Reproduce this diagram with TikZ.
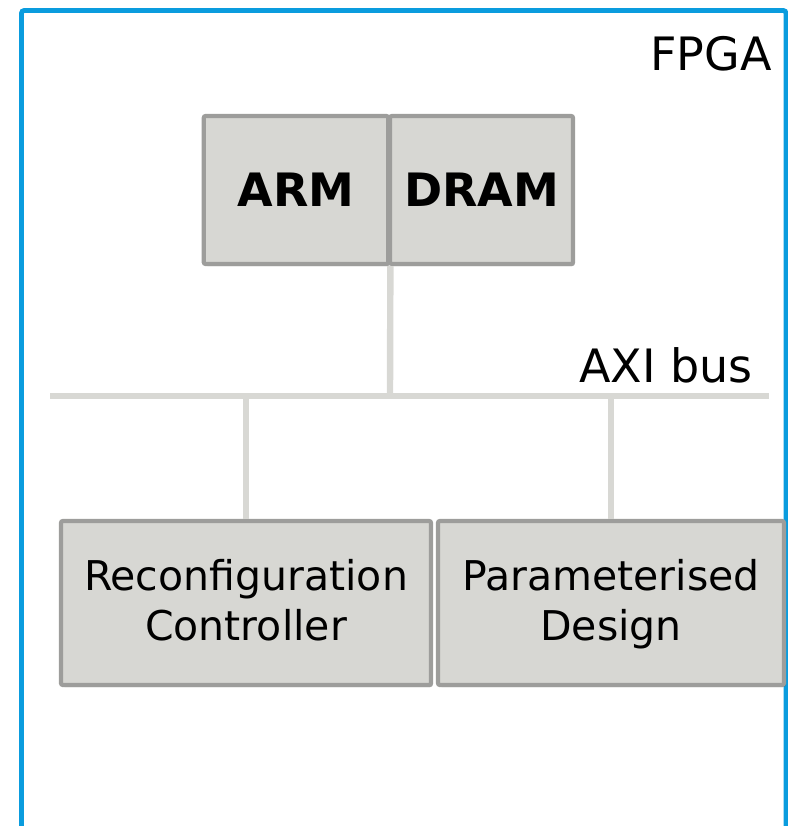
\documentclass[tikz,border=0pt]{standalone}
\usepackage{fontspec}
\setmainfont{DejaVu Sans}
\usetikzlibrary{shadows}
\definecolor{fpgablue}{RGB}{10,156,222}
\definecolor{boxfill}{RGB}{215,215,211}
\definecolor{boxline}{RGB}{157,157,155}
\definecolor{busgray}{RGB}{216,216,212}
\tikzset{
  blk/.style={draw=boxline, fill=boxfill, line width=3.2pt, rounded corners=1.5pt, inner sep=0pt,
    drop shadow={shadow xshift=1.2pt, shadow yshift=-1.5pt, opacity=0.25, fill=black}},
  bigbold/.style={font=\fontsize{34.5}{40}\selectfont\bfseries},
  plain/.style={font=\fontsize{30.75}{37.5}\selectfont, align=center, text depth=4pt},
  lbl/.style={font=\fontsize{34.5}{40}\selectfont, inner sep=0pt},
  wire/.style={draw=busgray, line width=4.8pt}
}
\begin{document}
\begin{tikzpicture}[x=0.75pt,y=-0.75pt]
\useasboundingbox (0,0) rectangle (788,826);
% FPGA frame
\draw[fpgablue, line width=3.6pt, rounded corners=2pt] (21.5,840) |- (786,10.5) -- (786,840);
\node[lbl, anchor=base east] (fpga) at (772,70) {FPGA};
% bus
\coordinate (busL) at (50,396);
\coordinate (busR) at (769,396);
\coordinate (busA) at (390,396);
\coordinate (busB) at (246,396);
\coordinate (busC) at (611,396);
\node[lbl, anchor=base east] (axi) at (753,382) {AXI bus};
% blocks
\node[blk, minimum width={184.5*0.75pt}, minimum height={148*0.75pt}, bigbold] (arm) at (296,190) {ARM};
\node[blk, minimum width={183*0.75pt}, minimum height={148*0.75pt}, bigbold] (dram) at (481.5,190) {DRAM};
\node[blk, minimum width={370*0.75pt}, minimum height={164*0.75pt}, plain] (rc) at (246,603) {Reconfiguration\\Controller};
\node[blk, minimum width={346*0.75pt}, minimum height={164*0.75pt}, plain] (pd) at (611,603) {Parameterised\\Design};
% connectors
\draw[wire] (busL) -- (busR);
\draw[wire] (arm.south east) -- (busA);
\draw[wire] (busB) -- (rc.north);
\draw[wire] (busC) -- (pd.north);
\end{tikzpicture}
\end{document}
